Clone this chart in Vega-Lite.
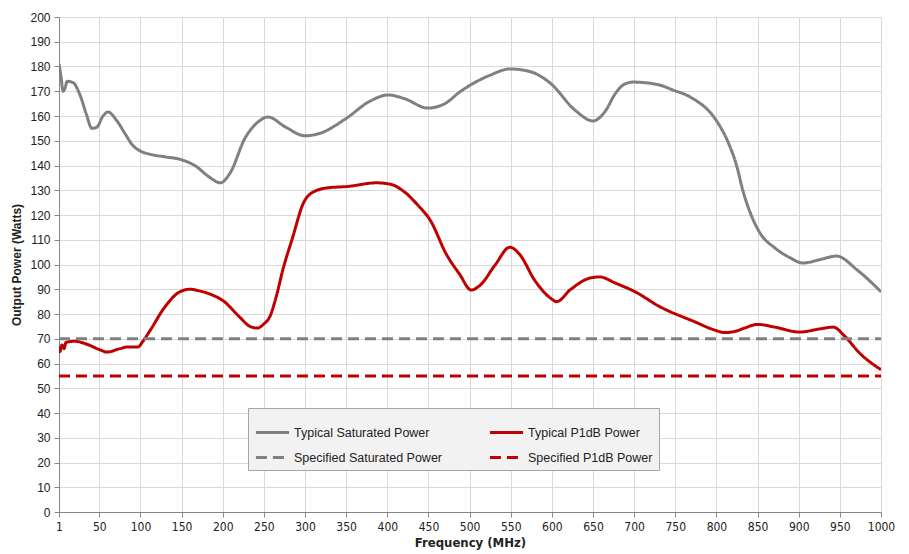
{
  "$schema": "https://vega.github.io/schema/vega-lite/v6.json",
  "autosize": "none",
  "width": 822,
  "height": 495,
  "padding": {"left": 59, "top": 17, "right": 28, "bottom": 42},
  "background": "white",
  "config": {
    "view": {"stroke": null},
    "font": "Liberation Sans"
  },
  "data": {
    "values": [
      {"series": "Typical Saturated Power", "f": 1, "p": 181},
      {"series": "Typical Saturated Power", "f": 3.4, "p": 176},
      {"series": "Typical Saturated Power", "f": 6, "p": 170},
      {"series": "Typical Saturated Power", "f": 8, "p": 171},
      {"series": "Typical Saturated Power", "f": 11, "p": 174},
      {"series": "Typical Saturated Power", "f": 18, "p": 173.5},
      {"series": "Typical Saturated Power", "f": 26.5, "p": 168.5},
      {"series": "Typical Saturated Power", "f": 34, "p": 161},
      {"series": "Typical Saturated Power", "f": 41, "p": 155},
      {"series": "Typical Saturated Power", "f": 47, "p": 155.5},
      {"series": "Typical Saturated Power", "f": 54.5, "p": 160},
      {"series": "Typical Saturated Power", "f": 60.5, "p": 161.6},
      {"series": "Typical Saturated Power", "f": 71.5, "p": 158},
      {"series": "Typical Saturated Power", "f": 81, "p": 153},
      {"series": "Typical Saturated Power", "f": 91, "p": 148},
      {"series": "Typical Saturated Power", "f": 99, "p": 146},
      {"series": "Typical Saturated Power", "f": 112, "p": 144.5},
      {"series": "Typical Saturated Power", "f": 130, "p": 143.5},
      {"series": "Typical Saturated Power", "f": 148, "p": 142.5},
      {"series": "Typical Saturated Power", "f": 166, "p": 140},
      {"series": "Typical Saturated Power", "f": 185, "p": 135},
      {"series": "Typical Saturated Power", "f": 197, "p": 133},
      {"series": "Typical Saturated Power", "f": 209, "p": 137},
      {"series": "Typical Saturated Power", "f": 227, "p": 151},
      {"series": "Typical Saturated Power", "f": 243, "p": 157.6},
      {"series": "Typical Saturated Power", "f": 255, "p": 159.6},
      {"series": "Typical Saturated Power", "f": 276, "p": 155.6},
      {"series": "Typical Saturated Power", "f": 300, "p": 152},
      {"series": "Typical Saturated Power", "f": 318, "p": 153},
      {"series": "Typical Saturated Power", "f": 349, "p": 158.8},
      {"series": "Typical Saturated Power", "f": 379, "p": 166},
      {"series": "Typical Saturated Power", "f": 401, "p": 168.5},
      {"series": "Typical Saturated Power", "f": 421, "p": 167},
      {"series": "Typical Saturated Power", "f": 449, "p": 163.2},
      {"series": "Typical Saturated Power", "f": 470, "p": 165},
      {"series": "Typical Saturated Power", "f": 488, "p": 169.7},
      {"series": "Typical Saturated Power", "f": 525, "p": 176.5},
      {"series": "Typical Saturated Power", "f": 549, "p": 179},
      {"series": "Typical Saturated Power", "f": 573, "p": 178},
      {"series": "Typical Saturated Power", "f": 598, "p": 173.3},
      {"series": "Typical Saturated Power", "f": 628, "p": 162.4},
      {"series": "Typical Saturated Power", "f": 650, "p": 158},
      {"series": "Typical Saturated Power", "f": 665, "p": 162},
      {"series": "Typical Saturated Power", "f": 677, "p": 169},
      {"series": "Typical Saturated Power", "f": 689, "p": 173},
      {"series": "Typical Saturated Power", "f": 699, "p": 173.7},
      {"series": "Typical Saturated Power", "f": 731, "p": 172.5},
      {"series": "Typical Saturated Power", "f": 747, "p": 170.5},
      {"series": "Typical Saturated Power", "f": 768, "p": 167.7},
      {"series": "Typical Saturated Power", "f": 801, "p": 157.6},
      {"series": "Typical Saturated Power", "f": 813, "p": 150.3},
      {"series": "Typical Saturated Power", "f": 825, "p": 139.4},
      {"series": "Typical Saturated Power", "f": 832, "p": 130},
      {"series": "Typical Saturated Power", "f": 841, "p": 121},
      {"series": "Typical Saturated Power", "f": 853, "p": 112.7},
      {"series": "Typical Saturated Power", "f": 871, "p": 106.7},
      {"series": "Typical Saturated Power", "f": 889, "p": 102.8},
      {"series": "Typical Saturated Power", "f": 905, "p": 100.6},
      {"series": "Typical Saturated Power", "f": 926, "p": 102},
      {"series": "Typical Saturated Power", "f": 946, "p": 103.4},
      {"series": "Typical Saturated Power", "f": 971, "p": 97.8},
      {"series": "Typical Saturated Power", "f": 1000, "p": 89},
      {"series": "Typical P1dB Power", "f": 1, "p": 67},
      {"series": "Typical P1dB Power", "f": 2, "p": 64.8},
      {"series": "Typical P1dB Power", "f": 4.6, "p": 67.5},
      {"series": "Typical P1dB Power", "f": 7, "p": 66},
      {"series": "Typical P1dB Power", "f": 9.5, "p": 68.5},
      {"series": "Typical P1dB Power", "f": 20, "p": 69},
      {"series": "Typical P1dB Power", "f": 33, "p": 68},
      {"series": "Typical P1dB Power", "f": 51, "p": 65.5},
      {"series": "Typical P1dB Power", "f": 59, "p": 64.6},
      {"series": "Typical P1dB Power", "f": 75, "p": 66},
      {"series": "Typical P1dB Power", "f": 85, "p": 66.7},
      {"series": "Typical P1dB Power", "f": 97, "p": 66.7},
      {"series": "Typical P1dB Power", "f": 103, "p": 69},
      {"series": "Typical P1dB Power", "f": 112, "p": 73.5},
      {"series": "Typical P1dB Power", "f": 130, "p": 83},
      {"series": "Typical P1dB Power", "f": 148, "p": 89},
      {"series": "Typical P1dB Power", "f": 160, "p": 90},
      {"series": "Typical P1dB Power", "f": 172, "p": 89.3},
      {"series": "Typical P1dB Power", "f": 190, "p": 87.3},
      {"series": "Typical P1dB Power", "f": 199, "p": 85.7},
      {"series": "Typical P1dB Power", "f": 221, "p": 78.6},
      {"series": "Typical P1dB Power", "f": 232, "p": 75.2},
      {"series": "Typical P1dB Power", "f": 242, "p": 74.3},
      {"series": "Typical P1dB Power", "f": 250, "p": 76},
      {"series": "Typical P1dB Power", "f": 257, "p": 78.8},
      {"series": "Typical P1dB Power", "f": 265, "p": 87},
      {"series": "Typical P1dB Power", "f": 273, "p": 97.8},
      {"series": "Typical P1dB Power", "f": 285, "p": 111},
      {"series": "Typical P1dB Power", "f": 298, "p": 124.8},
      {"series": "Typical P1dB Power", "f": 310, "p": 129.3},
      {"series": "Typical P1dB Power", "f": 328, "p": 131},
      {"series": "Typical P1dB Power", "f": 351, "p": 131.5},
      {"series": "Typical P1dB Power", "f": 387, "p": 133},
      {"series": "Typical P1dB Power", "f": 403, "p": 132.5},
      {"series": "Typical P1dB Power", "f": 421, "p": 129.3},
      {"series": "Typical P1dB Power", "f": 437, "p": 124},
      {"series": "Typical P1dB Power", "f": 452, "p": 118},
      {"series": "Typical P1dB Power", "f": 472, "p": 104},
      {"series": "Typical P1dB Power", "f": 488, "p": 96},
      {"series": "Typical P1dB Power", "f": 502, "p": 89.7},
      {"series": "Typical P1dB Power", "f": 513, "p": 91.7},
      {"series": "Typical P1dB Power", "f": 531, "p": 99.8},
      {"series": "Typical P1dB Power", "f": 549, "p": 107},
      {"series": "Typical P1dB Power", "f": 561, "p": 104},
      {"series": "Typical P1dB Power", "f": 579, "p": 93.7},
      {"series": "Typical P1dB Power", "f": 598, "p": 86.5},
      {"series": "Typical P1dB Power", "f": 606, "p": 85},
      {"series": "Typical P1dB Power", "f": 622, "p": 89.7},
      {"series": "Typical P1dB Power", "f": 646, "p": 94.5},
      {"series": "Typical P1dB Power", "f": 658, "p": 95},
      {"series": "Typical P1dB Power", "f": 677, "p": 92.5},
      {"series": "Typical P1dB Power", "f": 701, "p": 89},
      {"series": "Typical P1dB Power", "f": 731, "p": 83},
      {"series": "Typical P1dB Power", "f": 774, "p": 76.8},
      {"series": "Typical P1dB Power", "f": 798, "p": 73.5},
      {"series": "Typical P1dB Power", "f": 810, "p": 72.5},
      {"series": "Typical P1dB Power", "f": 823, "p": 73},
      {"series": "Typical P1dB Power", "f": 834, "p": 74.3},
      {"series": "Typical P1dB Power", "f": 850, "p": 75.8},
      {"series": "Typical P1dB Power", "f": 871, "p": 74.7},
      {"series": "Typical P1dB Power", "f": 901, "p": 72.7},
      {"series": "Typical P1dB Power", "f": 926, "p": 74},
      {"series": "Typical P1dB Power", "f": 942, "p": 74.7},
      {"series": "Typical P1dB Power", "f": 956, "p": 71},
      {"series": "Typical P1dB Power", "f": 974, "p": 64.2},
      {"series": "Typical P1dB Power", "f": 1000, "p": 57.5},
      {"series": "Specified Saturated Power", "f": 1, "p": 70},
      {"series": "Specified Saturated Power", "f": 1000, "p": 70},
      {"series": "Specified P1dB Power", "f": 1, "p": 55},
      {"series": "Specified P1dB Power", "f": 1000, "p": 55}
    ]
  },
  "mark": {"type": "line", "interpolate": "monotone", "strokeWidth": 3, "clip": true},
  "encoding": {
    "x": {
      "field": "f",
      "type": "quantitative",
      "scale": {"domain": [1, 1000], "nice": false, "zero": false},
      "axis": {
        "values": [1, 50, 100, 150, 200, 250, 300, 350, 400, 450, 500, 550, 600, 650, 700, 750, 800, 850, 900, 950, 1000],
        "format": "d",
        "title": "Frequency (MHz)",
        "titleFont": "'Liberation Sans Narrow', 'DejaVu Sans Condensed', 'Liberation Sans', sans-serif",
        "titleFontSize": 13,
        "titleFontWeight": "bold",
        "titleColor": "#222222",
        "titlePadding": 4,
        "labelFont": "'Liberation Sans Narrow', 'DejaVu Sans Condensed', 'Liberation Sans', sans-serif",
        "labelFontSize": 12,
        "labelColor": "#222222",
        "labelPadding": 4,
        "labelFlush": false,
        "domainColor": "#868686",
        "tickColor": "#868686",
        "tickSize": 5,
        "gridColor": "#d9d9d9",
        "gridWidth": 1
      }
    },
    "y": {
      "field": "p",
      "type": "quantitative",
      "scale": {"domain": [0, 200], "nice": false},
      "axis": {
        "values": [0, 10, 20, 30, 40, 50, 60, 70, 80, 90, 100, 110, 120, 130, 140, 150, 160, 170, 180, 190, 200],
        "title": "Output Power (Watts)",
        "titleFontSize": 12,
        "titleFontWeight": "bold",
        "titleColor": "#222222",
        "titlePadding": 6,
        "labelFontSize": 12,
        "labelColor": "#222222",
        "labelPadding": 4,
        "domainColor": "#868686",
        "tickColor": "#868686",
        "tickSize": 5,
        "gridColor": "#d9d9d9",
        "gridWidth": 1
      }
    },
    "color": {
      "field": "series",
      "type": "nominal",
      "scale": {
        "domain": ["Typical Saturated Power", "Typical P1dB Power", "Specified Saturated Power", "Specified P1dB Power"],
        "range": ["#808080", "#c00000", "#808080", "#c00000"]
      },
      "legend": {
        "title": null,
        "orient": "none",
        "legendX": 189,
        "legendY": 391,
        "direction": "horizontal",
        "columns": 2,
        "gridAlign": "all",
        "columnPadding": 40,
        "rowPadding": -1,
        "padding": 6,
        "fillColor": "#f2f2f2",
        "strokeColor": "#a6a6a6",
        "symbolType": "stroke",
        "symbolSize": 1100,
        "symbolStrokeWidth": 3,
        "labelFontSize": 12.5,
        "labelColor": "#222222",
        "labelOffset": 3,
        "labelLimit": 300
      }
    },
    "strokeDash": {
      "field": "series",
      "type": "nominal",
      "scale": {
        "domain": ["Typical Saturated Power", "Typical P1dB Power", "Specified Saturated Power", "Specified P1dB Power"],
        "range": [[1, 0], [1, 0], [11, 6], [11, 6]]
      },
      "legend": {
        "title": null,
        "orient": "none",
        "legendX": 189,
        "legendY": 391,
        "direction": "horizontal",
        "columns": 2,
        "gridAlign": "all",
        "columnPadding": 40,
        "rowPadding": -1,
        "padding": 6,
        "fillColor": "#f2f2f2",
        "strokeColor": "#a6a6a6",
        "symbolType": "stroke",
        "symbolSize": 1100,
        "symbolStrokeWidth": 3,
        "labelFontSize": 12.5,
        "labelColor": "#222222",
        "labelOffset": 3,
        "labelLimit": 300
      }
    }
  }
}
